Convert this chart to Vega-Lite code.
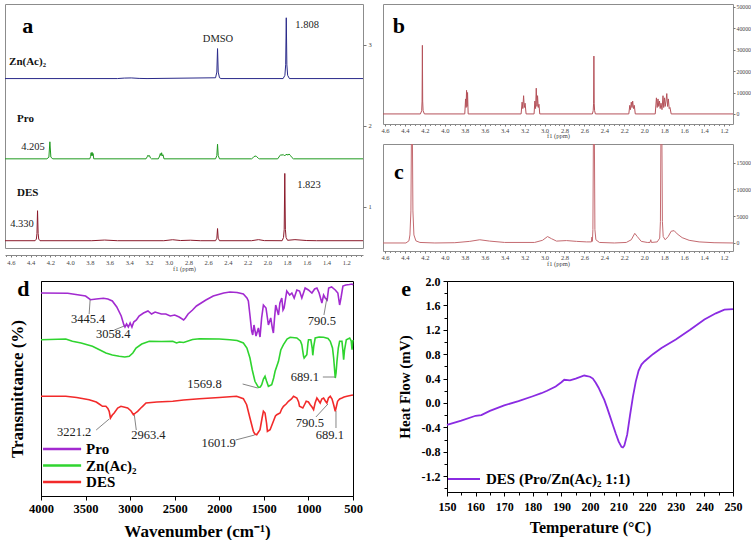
{
"$schema": "https://vega.github.io/schema/vega-lite/v6.json",
"background": "white",
"padding": {"left": 4, "top": 3, "right": 0, "bottom": 0},
"config": {
  "view": {"stroke": null},
  "font": "Liberation Serif",
  "axis": {"labelFont": "Liberation Serif", "titleFont": "Liberation Serif", "grid": false},
  "text": {"font": "Liberation Serif"},
  "legend": {"labelFont": "Liberation Serif"}
},
"datasets": {
  "nmrA": [
    {"s":"Zn","ppm":4.66,"v":2.58},{"s":"Zn","ppm":3.52,"v":2.58},{"s":"Zn","ppm":3.45,"v":2.586},{"s":"Zn","ppm":3.38,"v":2.588},{"s":"Zn","ppm":3.3,"v":2.582},{"s":"Zn","ppm":3.22,"v":2.58},
    {"s":"Zn","ppm":2.525,"v":2.59},{"s":"Zn","ppm":2.512,"v":2.66},{"s":"Zn","ppm":2.505,"v":2.95},{"s":"Zn","ppm":2.498,"v":2.66},{"s":"Zn","ppm":2.485,"v":2.59},{"s":"Zn","ppm":2.47,"v":2.58},
    {"s":"Zn","ppm":1.84,"v":2.58},{"s":"Zn","ppm":1.822,"v":2.62},{"s":"Zn","ppm":1.814,"v":2.75},{"s":"Zn","ppm":1.808,"v":3.33},{"s":"Zn","ppm":1.802,"v":2.75},{"s":"Zn","ppm":1.794,"v":2.62},{"s":"Zn","ppm":1.776,"v":2.58},{"s":"Zn","ppm":1.03,"v":2.58},
    {"s":"Pro","ppm":4.66,"v":1.59},{"s":"Pro","ppm":4.235,"v":1.59},{"s":"Pro","ppm":4.215,"v":1.61},{"s":"Pro","ppm":4.205,"v":1.8},{"s":"Pro","ppm":4.195,"v":1.61},{"s":"Pro","ppm":4.175,"v":1.59},
    {"s":"Pro","ppm":3.8,"v":1.59},{"s":"Pro","ppm":3.792,"v":1.62},{"s":"Pro","ppm":3.787,"v":1.665},{"s":"Pro","ppm":3.782,"v":1.63},{"s":"Pro","ppm":3.777,"v":1.67},{"s":"Pro","ppm":3.772,"v":1.63},{"s":"Pro","ppm":3.767,"v":1.655},{"s":"Pro","ppm":3.76,"v":1.59},
    {"s":"Pro","ppm":3.23,"v":1.59},{"s":"Pro","ppm":3.218,"v":1.615},{"s":"Pro","ppm":3.21,"v":1.635},{"s":"Pro","ppm":3.202,"v":1.62},{"s":"Pro","ppm":3.195,"v":1.63},{"s":"Pro","ppm":3.185,"v":1.6},{"s":"Pro","ppm":3.175,"v":1.59},
    {"s":"Pro","ppm":3.105,"v":1.59},{"s":"Pro","ppm":3.092,"v":1.625},{"s":"Pro","ppm":3.085,"v":1.655},{"s":"Pro","ppm":3.078,"v":1.63},{"s":"Pro","ppm":3.072,"v":1.665},{"s":"Pro","ppm":3.065,"v":1.625},{"s":"Pro","ppm":3.058,"v":1.64},{"s":"Pro","ppm":3.048,"v":1.59},
    {"s":"Pro","ppm":2.525,"v":1.59},{"s":"Pro","ppm":2.512,"v":1.63},{"s":"Pro","ppm":2.505,"v":1.77},{"s":"Pro","ppm":2.498,"v":1.63},{"s":"Pro","ppm":2.485,"v":1.59},
    {"s":"Pro","ppm":2.16,"v":1.59},{"s":"Pro","ppm":2.14,"v":1.61},{"s":"Pro","ppm":2.125,"v":1.625},{"s":"Pro","ppm":2.11,"v":1.62},{"s":"Pro","ppm":2.09,"v":1.595},{"s":"Pro","ppm":2.08,"v":1.59},
    {"s":"Pro","ppm":1.895,"v":1.59},{"s":"Pro","ppm":1.875,"v":1.625},{"s":"Pro","ppm":1.865,"v":1.64},{"s":"Pro","ppm":1.85,"v":1.635},{"s":"Pro","ppm":1.84,"v":1.645},{"s":"Pro","ppm":1.825,"v":1.625},{"s":"Pro","ppm":1.815,"v":1.64},{"s":"Pro","ppm":1.8,"v":1.645},{"s":"Pro","ppm":1.79,"v":1.635},{"s":"Pro","ppm":1.78,"v":1.65},{"s":"Pro","ppm":1.765,"v":1.63},{"s":"Pro","ppm":1.75,"v":1.605},{"s":"Pro","ppm":1.735,"v":1.59},{"s":"Pro","ppm":1.03,"v":1.59},
    {"s":"DES","ppm":4.66,"v":0.58},{"s":"DES","ppm":4.355,"v":0.58},{"s":"DES","ppm":4.342,"v":0.6},{"s":"DES","ppm":4.336,"v":0.67},{"s":"DES","ppm":4.33,"v":0.95},{"s":"DES","ppm":4.324,"v":0.67},{"s":"DES","ppm":4.318,"v":0.6},{"s":"DES","ppm":4.305,"v":0.58},
    {"s":"DES","ppm":3.78,"v":0.58},{"s":"DES","ppm":3.65,"v":0.588},{"s":"DES","ppm":3.52,"v":0.58},{"s":"DES","ppm":3.05,"v":0.58},{"s":"DES","ppm":2.96,"v":0.592},{"s":"DES","ppm":2.88,"v":0.582},{"s":"DES","ppm":2.78,"v":0.586},{"s":"DES","ppm":2.68,"v":0.58},
    {"s":"DES","ppm":2.525,"v":0.58},{"s":"DES","ppm":2.512,"v":0.61},{"s":"DES","ppm":2.505,"v":0.73},{"s":"DES","ppm":2.498,"v":0.61},{"s":"DES","ppm":2.485,"v":0.58},
    {"s":"DES","ppm":2.16,"v":0.58},{"s":"DES","ppm":2.09,"v":0.593},{"s":"DES","ppm":2.03,"v":0.581},{"s":"DES","ppm":1.85,"v":0.58},{"s":"DES","ppm":1.836,"v":0.62},{"s":"DES","ppm":1.829,"v":0.72},{"s":"DES","ppm":1.823,"v":1.41},{"s":"DES","ppm":1.817,"v":0.72},{"s":"DES","ppm":1.81,"v":0.62},{"s":"DES","ppm":1.795,"v":0.585},{"s":"DES","ppm":1.72,"v":0.593},{"s":"DES","ppm":1.6,"v":0.582},{"s":"DES","ppm":1.5,"v":0.58},{"s":"DES","ppm":1.03,"v":0.58}
  ],
  "nmrB": [
    {"ppm":4.62,"v":0},{"ppm":4.245,"v":0},{"ppm":4.232,"v":1500},{"ppm":4.228,"v":6000},{"ppm":4.225,"v":32000},{"ppm":4.222,"v":6000},{"ppm":4.218,"v":1500},{"ppm":4.205,"v":0},
    {"ppm":3.8,"v":0},{"ppm":3.792,"v":7000},{"ppm":3.787,"v":3000},{"ppm":3.782,"v":11000},{"ppm":3.777,"v":3500},{"ppm":3.772,"v":10000},{"ppm":3.766,"v":0},
    {"ppm":3.235,"v":0},{"ppm":3.225,"v":5500},{"ppm":3.218,"v":2500},{"ppm":3.21,"v":8500},{"ppm":3.203,"v":3000},{"ppm":3.195,"v":5000},{"ppm":3.185,"v":0},
    {"ppm":3.105,"v":0},{"ppm":3.097,"v":6000},{"ppm":3.09,"v":2500},{"ppm":3.083,"v":12000},{"ppm":3.076,"v":3500},{"ppm":3.07,"v":8500},{"ppm":3.063,"v":3000},{"ppm":3.056,"v":4500},{"ppm":3.048,"v":0},
    {"ppm":2.52,"v":0},{"ppm":2.512,"v":1500},{"ppm":2.508,"v":5000},{"ppm":2.505,"v":27000},{"ppm":2.502,"v":5000},{"ppm":2.498,"v":1500},{"ppm":2.49,"v":0},
    {"ppm":2.155,"v":0},{"ppm":2.145,"v":4000},{"ppm":2.138,"v":2000},{"ppm":2.13,"v":5500},{"ppm":2.123,"v":3000},{"ppm":2.116,"v":6000},{"ppm":2.108,"v":2500},{"ppm":2.1,"v":4000},{"ppm":2.09,"v":0},
    {"ppm":1.89,"v":0},{"ppm":1.878,"v":7500},{"ppm":1.87,"v":3000},{"ppm":1.862,"v":7000},{"ppm":1.855,"v":3500},{"ppm":1.847,"v":6000},{"ppm":1.84,"v":2500},{"ppm":1.832,"v":5000},{"ppm":1.822,"v":2000},{"ppm":1.812,"v":8500},{"ppm":1.805,"v":3000},{"ppm":1.797,"v":7500},{"ppm":1.79,"v":3500},{"ppm":1.782,"v":6000},{"ppm":1.774,"v":9500},{"ppm":1.766,"v":3500},{"ppm":1.758,"v":7000},{"ppm":1.75,"v":2500},{"ppm":1.742,"v":3000},{"ppm":1.73,"v":0},{"ppm":1.11,"v":0}
  ],
  "nmrC": [
    {"ppm":4.62,"v":0},{"ppm":4.39,"v":0},{"ppm":4.36,"v":400},{"ppm":4.35,"v":1500},{"ppm":4.34,"v":6000},{"ppm":4.335,"v":19500},{"ppm":4.325,"v":19500},{"ppm":4.32,"v":6000},{"ppm":4.31,"v":1500},{"ppm":4.29,"v":400},{"ppm":4.25,"v":100},{"ppm":4.1,"v":0},
    {"ppm":3.9,"v":50},{"ppm":3.75,"v":300},{"ppm":3.65,"v":600},{"ppm":3.55,"v":350},{"ppm":3.4,"v":100},{"ppm":3.1,"v":100},{"ppm":3.02,"v":500},{"ppm":2.97,"v":1200},{"ppm":2.93,"v":800},{"ppm":2.88,"v":350},{"ppm":2.78,"v":450},{"ppm":2.68,"v":300},{"ppm":2.58,"v":200},
    {"ppm":2.53,"v":200},{"ppm":2.525,"v":1100},{"ppm":2.52,"v":300},{"ppm":2.515,"v":2500},{"ppm":2.51,"v":19500},{"ppm":2.5,"v":19500},{"ppm":2.495,"v":2500},{"ppm":2.485,"v":600},{"ppm":2.45,"v":100},{"ppm":2.3,"v":0},
    {"ppm":2.18,"v":100},{"ppm":2.13,"v":600},{"ppm":2.095,"v":1800},{"ppm":2.07,"v":1200},{"ppm":2.03,"v":300},{"ppm":1.97,"v":100},{"ppm":1.942,"v":100},{"ppm":1.935,"v":600},{"ppm":1.928,"v":100},
    {"ppm":1.87,"v":200},{"ppm":1.845,"v":900},{"ppm":1.838,"v":4000},{"ppm":1.833,"v":19500},{"ppm":1.823,"v":19500},{"ppm":1.818,"v":4000},{"ppm":1.81,"v":1200},{"ppm":1.79,"v":600},{"ppm":1.76,"v":1200},{"ppm":1.73,"v":2200},{"ppm":1.7,"v":2300},{"ppm":1.67,"v":1700},{"ppm":1.62,"v":1000},{"ppm":1.55,"v":500},{"ppm":1.45,"v":200},{"ppm":1.3,"v":50},{"ppm":1.11,"v":0}
  ],
  "ftir": [
    {"s":"Pro","wn":4000,"t":203},{"s":"Pro","wn":3700,"t":202.7},{"s":"Pro","wn":3500,"t":200},{"s":"Pro","wn":3445,"t":196.3},{"s":"Pro","wn":3380,"t":197},{"s":"Pro","wn":3300,"t":197.7},{"s":"Pro","wn":3250,"t":197},{"s":"Pro","wn":3200,"t":195},{"s":"Pro","wn":3150,"t":189},{"s":"Pro","wn":3100,"t":180},{"s":"Pro","wn":3070,"t":171},{"s":"Pro","wn":3058,"t":169},{"s":"Pro","wn":3040,"t":172},{"s":"Pro","wn":3020,"t":169},{"s":"Pro","wn":3000,"t":173},{"s":"Pro","wn":2980,"t":169},{"s":"Pro","wn":2960,"t":174},{"s":"Pro","wn":2930,"t":176},{"s":"Pro","wn":2900,"t":180},{"s":"Pro","wn":2850,"t":183},{"s":"Pro","wn":2800,"t":185},{"s":"Pro","wn":2760,"t":182},{"s":"Pro","wn":2720,"t":184},{"s":"Pro","wn":2650,"t":182},{"s":"Pro","wn":2600,"t":182},{"s":"Pro","wn":2550,"t":180},{"s":"Pro","wn":2500,"t":181},{"s":"Pro","wn":2450,"t":179},{"s":"Pro","wn":2400,"t":176},{"s":"Pro","wn":2380,"t":178},{"s":"Pro","wn":2350,"t":182},{"s":"Pro","wn":2300,"t":186},{"s":"Pro","wn":2256,"t":190},{"s":"Pro","wn":2150,"t":196},{"s":"Pro","wn":2068,"t":200},{"s":"Pro","wn":1950,"t":203},{"s":"Pro","wn":1881,"t":204},{"s":"Pro","wn":1800,"t":203.5},{"s":"Pro","wn":1730,"t":202},{"s":"Pro","wn":1690,"t":198},{"s":"Pro","wn":1674,"t":195},{"s":"Pro","wn":1655,"t":180},{"s":"Pro","wn":1637,"t":165},{"s":"Pro","wn":1625,"t":161},{"s":"Pro","wn":1611,"t":171},{"s":"Pro","wn":1588,"t":160},{"s":"Pro","wn":1561,"t":168},{"s":"Pro","wn":1543,"t":159},{"s":"Pro","wn":1525,"t":178},{"s":"Pro","wn":1505,"t":191},{"s":"Pro","wn":1476,"t":188},{"s":"Pro","wn":1449,"t":171},{"s":"Pro","wn":1423,"t":178},{"s":"Pro","wn":1405,"t":168},{"s":"Pro","wn":1393,"t":163},{"s":"Pro","wn":1380,"t":178},{"s":"Pro","wn":1367,"t":191},{"s":"Pro","wn":1336,"t":181},{"s":"Pro","wn":1320,"t":193},{"s":"Pro","wn":1299,"t":198},{"s":"Pro","wn":1285,"t":186},{"s":"Pro","wn":1273,"t":188},{"s":"Pro","wn":1243,"t":205},{"s":"Pro","wn":1210,"t":201},{"s":"Pro","wn":1186,"t":203},{"s":"Pro","wn":1160,"t":198},{"s":"Pro","wn":1130,"t":206},{"s":"Pro","wn":1100,"t":205},{"s":"Pro","wn":1074,"t":198},{"s":"Pro","wn":1037,"t":208},{"s":"Pro","wn":1000,"t":206},{"s":"Pro","wn":961,"t":203},{"s":"Pro","wn":930,"t":207},{"s":"Pro","wn":905,"t":208},{"s":"Pro","wn":880,"t":203},{"s":"Pro","wn":849,"t":193},{"s":"Pro","wn":830,"t":201},{"s":"Pro","wn":812,"t":198},{"s":"Pro","wn":790,"t":196},{"s":"Pro","wn":773,"t":208},{"s":"Pro","wn":740,"t":209},{"s":"Pro","wn":699,"t":206},{"s":"Pro","wn":670,"t":203},{"s":"Pro","wn":650,"t":191},{"s":"Pro","wn":635,"t":198},{"s":"Pro","wn":613,"t":210},{"s":"Pro","wn":580,"t":211},{"s":"Pro","wn":540,"t":211.5},{"s":"Pro","wn":511,"t":212},{"s":"Pro","wn":500,"t":211},
    {"s":"Zn(Ac)₂","wn":4000,"t":156.3},{"s":"Zn(Ac)₂","wn":3722,"t":157},{"s":"Zn(Ac)₂","wn":3648,"t":154.7},{"s":"Zn(Ac)₂","wn":3550,"t":153},{"s":"Zn(Ac)₂","wn":3423,"t":149.7},{"s":"Zn(Ac)₂","wn":3350,"t":146.5},{"s":"Zn(Ac)₂","wn":3272,"t":143},{"s":"Zn(Ac)₂","wn":3200,"t":141},{"s":"Zn(Ac)₂","wn":3122,"t":139.7},{"s":"Zn(Ac)₂","wn":3060,"t":139},{"s":"Zn(Ac)₂","wn":3010,"t":139.7},{"s":"Zn(Ac)₂","wn":2970,"t":143},{"s":"Zn(Ac)₂","wn":2934,"t":148},{"s":"Zn(Ac)₂","wn":2870,"t":152},{"s":"Zn(Ac)₂","wn":2785,"t":154.7},{"s":"Zn(Ac)₂","wn":2650,"t":154.5},{"s":"Zn(Ac)₂","wn":2522,"t":154.7},{"s":"Zn(Ac)₂","wn":2480,"t":153},{"s":"Zn(Ac)₂","wn":2447,"t":154},{"s":"Zn(Ac)₂","wn":2400,"t":153.5},{"s":"Zn(Ac)₂","wn":2300,"t":156.5},{"s":"Zn(Ac)₂","wn":2222,"t":157.3},{"s":"Zn(Ac)₂","wn":2000,"t":157},{"s":"Zn(Ac)₂","wn":1881,"t":156.3},{"s":"Zn(Ac)₂","wn":1800,"t":155.5},{"s":"Zn(Ac)₂","wn":1730,"t":153},{"s":"Zn(Ac)₂","wn":1690,"t":148},{"s":"Zn(Ac)₂","wn":1656,"t":138},{"s":"Zn(Ac)₂","wn":1630,"t":126},{"s":"Zn(Ac)₂","wn":1600,"t":114.7},{"s":"Zn(Ac)₂","wn":1561,"t":108.7},{"s":"Zn(Ac)₂","wn":1540,"t":109},{"s":"Zn(Ac)₂","wn":1524,"t":111.3},{"s":"Zn(Ac)₂","wn":1505,"t":117},{"s":"Zn(Ac)₂","wn":1487,"t":119.7},{"s":"Zn(Ac)₂","wn":1470,"t":115},{"s":"Zn(Ac)₂","wn":1449,"t":109.7},{"s":"Zn(Ac)₂","wn":1412,"t":111.3},{"s":"Zn(Ac)₂","wn":1390,"t":118},{"s":"Zn(Ac)₂","wn":1374,"t":124.7},{"s":"Zn(Ac)₂","wn":1336,"t":134.7},{"s":"Zn(Ac)₂","wn":1310,"t":146},{"s":"Zn(Ac)₂","wn":1280,"t":151.3},{"s":"Zn(Ac)₂","wn":1240,"t":157},{"s":"Zn(Ac)₂","wn":1205,"t":158.7},{"s":"Zn(Ac)₂","wn":1130,"t":158},{"s":"Zn(Ac)₂","wn":1090,"t":155},{"s":"Zn(Ac)₂","wn":1074,"t":151.3},{"s":"Zn(Ac)₂","wn":1055,"t":140},{"s":"Zn(Ac)₂","wn":1048,"t":138},{"s":"Zn(Ac)₂","wn":1030,"t":140},{"s":"Zn(Ac)₂","wn":1018,"t":141.3},{"s":"Zn(Ac)₂","wn":1005,"t":153},{"s":"Zn(Ac)₂","wn":999,"t":156.3},{"s":"Zn(Ac)₂","wn":973,"t":156.3},{"s":"Zn(Ac)₂","wn":958,"t":148},{"s":"Zn(Ac)₂","wn":951,"t":140.7},{"s":"Zn(Ac)₂","wn":940,"t":150},{"s":"Zn(Ac)₂","wn":924,"t":158},{"s":"Zn(Ac)₂","wn":880,"t":159},{"s":"Zn(Ac)₂","wn":830,"t":158.7},{"s":"Zn(Ac)₂","wn":780,"t":157.5},{"s":"Zn(Ac)₂","wn":755,"t":154.7},{"s":"Zn(Ac)₂","wn":730,"t":148},{"s":"Zn(Ac)₂","wn":717,"t":138},{"s":"Zn(Ac)₂","wn":699,"t":118},{"s":"Zn(Ac)₂","wn":690,"t":123},{"s":"Zn(Ac)₂","wn":680,"t":134.7},{"s":"Zn(Ac)₂","wn":665,"t":148},{"s":"Zn(Ac)₂","wn":650,"t":154.7},{"s":"Zn(Ac)₂","wn":624,"t":154.7},{"s":"Zn(Ac)₂","wn":614,"t":146},{"s":"Zn(Ac)₂","wn":605,"t":136.3},{"s":"Zn(Ac)₂","wn":595,"t":146},{"s":"Zn(Ac)₂","wn":575,"t":156.3},{"s":"Zn(Ac)₂","wn":537,"t":158},{"s":"Zn(Ac)₂","wn":520,"t":155},{"s":"Zn(Ac)₂","wn":511,"t":146.3},{"s":"Zn(Ac)₂","wn":505,"t":153},{"s":"Zn(Ac)₂","wn":500,"t":156},
    {"s":"DES","wn":4000,"t":99.7},{"s":"DES","wn":3722,"t":99.7},{"s":"DES","wn":3600,"t":98.5},{"s":"DES","wn":3460,"t":96.3},{"s":"DES","wn":3380,"t":94},{"s":"DES","wn":3347,"t":92},{"s":"DES","wn":3310,"t":89.7},{"s":"DES","wn":3272,"t":89.7},{"s":"DES","wn":3250,"t":87.5},{"s":"DES","wn":3235,"t":84.7},{"s":"DES","wn":3221,"t":78},{"s":"DES","wn":3200,"t":81},{"s":"DES","wn":3179,"t":83},{"s":"DES","wn":3140,"t":88},{"s":"DES","wn":3103,"t":89.7},{"s":"DES","wn":3028,"t":88},{"s":"DES","wn":2990,"t":85},{"s":"DES","wn":2963,"t":81.3},{"s":"DES","wn":2940,"t":83},{"s":"DES","wn":2916,"t":84.7},{"s":"DES","wn":2880,"t":88},{"s":"DES","wn":2860,"t":89.7},{"s":"DES","wn":2822,"t":93},{"s":"DES","wn":2700,"t":94},{"s":"DES","wn":2522,"t":94.7},{"s":"DES","wn":2400,"t":96},{"s":"DES","wn":2222,"t":97.3},{"s":"DES","wn":2000,"t":98.5},{"s":"DES","wn":1806,"t":99.7},{"s":"DES","wn":1730,"t":97.3},{"s":"DES","wn":1693,"t":91.3},{"s":"DES","wn":1656,"t":78},{"s":"DES","wn":1618,"t":64.7},{"s":"DES","wn":1601,"t":62},{"s":"DES","wn":1580,"t":61.3},{"s":"DES","wn":1543,"t":66.3},{"s":"DES","wn":1520,"t":78},{"s":"DES","wn":1505,"t":84.7},{"s":"DES","wn":1487,"t":83},{"s":"DES","wn":1470,"t":73},{"s":"DES","wn":1460,"t":64.7},{"s":"DES","wn":1430,"t":66.3},{"s":"DES","wn":1393,"t":74.7},{"s":"DES","wn":1370,"t":80},{"s":"DES","wn":1355,"t":81.3},{"s":"DES","wn":1318,"t":83},{"s":"DES","wn":1300,"t":87},{"s":"DES","wn":1280,"t":89.7},{"s":"DES","wn":1250,"t":92},{"s":"DES","wn":1224,"t":94.7},{"s":"DES","wn":1190,"t":97},{"s":"DES","wn":1167,"t":99.7},{"s":"DES","wn":1130,"t":98},{"s":"DES","wn":1110,"t":94},{"s":"DES","wn":1100,"t":89.7},{"s":"DES","wn":1063,"t":88},{"s":"DES","wn":1040,"t":92},{"s":"DES","wn":1025,"t":94.7},{"s":"DES","wn":1000,"t":94},{"s":"DES","wn":980,"t":91.3},{"s":"DES","wn":960,"t":89},{"s":"DES","wn":942,"t":86.3},{"s":"DES","wn":925,"t":93},{"s":"DES","wn":905,"t":98},{"s":"DES","wn":890,"t":96},{"s":"DES","wn":868,"t":93},{"s":"DES","wn":850,"t":97},{"s":"DES","wn":830,"t":98},{"s":"DES","wn":810,"t":95},{"s":"DES","wn":793,"t":93},{"s":"DES","wn":775,"t":98},{"s":"DES","wn":755,"t":99.7},{"s":"DES","wn":735,"t":97},{"s":"DES","wn":717,"t":91.3},{"s":"DES","wn":699,"t":84.7},{"s":"DES","wn":685,"t":90},{"s":"DES","wn":673,"t":94.7},{"s":"DES","wn":650,"t":97},{"s":"DES","wn":624,"t":98},{"s":"DES","wn":600,"t":99},{"s":"DES","wn":568,"t":99.7},{"s":"DES","wn":530,"t":100.5},{"s":"DES","wn":500,"t":101}
  ],
  "ftirKey": [
    {"s":"Pro","wn":3977,"wn2":3550,"wnt":3494,"t":47},
    {"s":"Zn(Ac)₂","wn":3977,"wn2":3550,"wnt":3494,"t":30.5},
    {"s":"DES","wn":3977,"wn2":3550,"wnt":3494,"t":14}
  ],
  "dsc": [
    {"T":150,"hf":-0.36},{"T":155,"hf":-0.29},{"T":160,"hf":-0.21},{"T":162,"hf":-0.2},{"T":165,"hf":-0.13},{"T":170,"hf":-0.04},{"T":175,"hf":0.03},{"T":180,"hf":0.11},{"T":183,"hf":0.16},{"T":185,"hf":0.2},{"T":188,"hf":0.27},{"T":190,"hf":0.34},{"T":191,"hf":0.38},{"T":193,"hf":0.37},{"T":195,"hf":0.4},{"T":198,"hf":0.45},{"T":200,"hf":0.43},{"T":201,"hf":0.4},{"T":202,"hf":0.33},{"T":203,"hf":0.25},{"T":204,"hf":0.15},{"T":205,"hf":0.05},{"T":206,"hf":-0.08},{"T":207,"hf":-0.22},{"T":208,"hf":-0.36},{"T":209,"hf":-0.5},{"T":210,"hf":-0.63},{"T":211,"hf":-0.72},{"T":211.5,"hf":-0.73},{"T":212,"hf":-0.7},{"T":213,"hf":-0.52},{"T":214,"hf":-0.2},{"T":215,"hf":0.1},{"T":216,"hf":0.35},{"T":217,"hf":0.53},{"T":218,"hf":0.63},{"T":219,"hf":0.68},{"T":220,"hf":0.72},{"T":222,"hf":0.8},{"T":225,"hf":0.9},{"T":230,"hf":1.04},{"T":235,"hf":1.2},{"T":240,"hf":1.37},{"T":244,"hf":1.47},{"T":247,"hf":1.53},{"T":250,"hf":1.54}
  ]
},
"resolve": {"scale": {"x": "independent", "y": "independent", "color": "independent"}},
"spacing": 1,
"vconcat": [
  {
    "bounds": "flush",
    "spacing": 20,
    "resolve": {"scale": {"x": "independent", "y": "independent", "color": "independent"}},
    "hconcat": [
      {
        "width": 358, "height": 244,
        "view": {"stroke": "#8c8c8c", "strokeWidth": 1},
        "resolve": {"axis": {"x": "independent", "y": "independent"}},
        "layer": [
          {
            "data": {"name": "nmrA"},
            "mark": {"type": "line", "strokeWidth": 1, "clip": true},
            "encoding": {
              "x": {"field": "ppm", "type": "quantitative", "scale": {"domain": [4.66, 1.03], "nice": false, "zero": false},
                "axis": {"orient": "bottom", "offset": 7, "values": [4.6,4.4,4.2,4.0,3.8,3.6,3.4,3.2,3.0,2.8,2.6,2.4,2.2,2.0,1.8,1.6,1.4,1.2], "format": ".1f", "labelOverlap": false, "labelFlush": false,
                  "labelFontSize": 6.5, "labelColor": "#444", "labelPadding": 2, "tickSize": 2, "tickColor": "#777", "domainColor": "#888",
                  "title": "f1 (ppm)", "titleFontSize": 6.5, "titleFontWeight": "normal", "titleColor": "#444", "titlePadding": 0}},
              "y": {"field": "v", "type": "quantitative", "scale": {"domain": [0.49, 3.5], "nice": false, "zero": false},
                "axis": {"orient": "right", "values": [1, 2, 3], "format": "d", "labelFontSize": 6.5, "labelColor": "#444", "tickSize": 3, "tickColor": "#777", "domain": false, "title": null, "labelPadding": 2}},
              "color": {"field": "s", "type": "nominal", "scale": {"domain": ["Zn", "Pro", "DES"], "range": ["#2a2a8a", "#1f9a1f", "#8b1a2b"]}, "legend": null}
            }
          },
          {
            "data": {"values": [{"t": "Zn(Ac)₂", "ppm": 4.619, "v": 2.78}, {"t": "Pro", "ppm": 4.538, "v": 2.08}, {"t": "DES", "ppm": 4.538, "v": 1.17}]},
            "mark": {"type": "text", "align": "left", "baseline": "middle", "fontSize": 11, "fontWeight": "bold", "color": "#111"},
            "encoding": {"x": {"field": "ppm", "type": "quantitative", "axis": null}, "y": {"field": "v", "type": "quantitative", "axis": null}, "text": {"field": "t"}}
          },
          {
            "data": {"values": [{"t": "DMSO", "ppm": 2.5, "v": 3.07}, {"t": "1.808", "ppm": 1.597, "v": 3.24}, {"t": "4.205", "ppm": 4.376, "v": 1.735}, {"t": "4.330", "ppm": 4.488, "v": 0.784}, {"t": "1.823", "ppm": 1.577, "v": 1.265}]},
            "mark": {"type": "text", "align": "center", "baseline": "middle", "fontSize": 10.5, "color": "#222"},
            "encoding": {"x": {"field": "ppm", "type": "quantitative", "axis": null}, "y": {"field": "v", "type": "quantitative", "axis": null}, "text": {"field": "t"}}
          },
          {
            "data": {"values": [{"t": "a", "ppm": 4.43, "v": 3.23}]},
            "mark": {"type": "text", "align": "center", "baseline": "middle", "fontSize": 22, "fontWeight": "bold", "color": "#000"},
            "encoding": {
              "x": {"field": "ppm", "type": "quantitative", "axis": {"orient": "bottom", "offset": 7, "values": [4.65,4.55,4.5,4.45,4.35,4.3,4.25,4.15,4.1,4.05,3.95,3.9,3.85,3.75,3.7,3.65,3.55,3.5,3.45,3.35,3.3,3.25,3.15,3.1,3.05,2.95,2.9,2.85,2.75,2.7,2.65,2.55,2.5,2.45,2.35,2.3,2.25,2.15,2.1,2.05,1.95,1.9,1.85,1.75,1.7,1.65,1.55,1.5,1.45,1.35,1.3,1.25,1.15,1.1,1.05], "labels": false, "domain": false, "tickSize": 1.5, "tickColor": "#888", "title": null}},
              "y": {"field": "v", "type": "quantitative", "axis": null},
              "text": {"field": "t"}}
          }
        ]
      },
      {
        "bounds": "flush",
        "spacing": 20,
        "resolve": {"scale": {"x": "independent", "y": "independent", "color": "independent"}},
        "vconcat": [
          {
            "width": 350, "height": 120,
            "view": {"stroke": "#8c8c8c", "strokeWidth": 1},
            "resolve": {"axis": {"x": "independent", "y": "independent"}},
            "layer": [
              {
                "data": {"name": "nmrB"},
                "mark": {"type": "line", "strokeWidth": 1, "color": "#b5525a", "clip": true},
                "encoding": {
                  "x": {"field": "ppm", "type": "quantitative", "scale": {"domain": [4.62, 1.11], "nice": false, "zero": false},
                    "axis": {"orient": "bottom", "values": [4.6,4.4,4.2,4.0,3.8,3.6,3.4,3.2,3.0,2.8,2.6,2.4,2.2,2.0,1.8,1.6,1.4,1.2], "format": ".1f", "labelOverlap": false, "labelFlush": false,
                      "labelFontSize": 6.5, "labelColor": "#444", "labelPadding": 1, "tickSize": 2, "tickColor": "#777", "domain": false,
                      "title": "f1 (ppm)", "titleFontSize": 6.5, "titleFontWeight": "normal", "titleColor": "#444", "titlePadding": -1}},
                  "y": {"field": "v", "type": "quantitative", "scale": {"domain": [-4700, 51300], "nice": false, "zero": false},
                    "axis": {"orient": "right", "values": [0, 10000, 20000, 30000, 40000, 50000], "format": "d", "labelFontSize": 5.8, "labelColor": "#444", "tickSize": 2, "tickColor": "#777", "domain": false, "title": null, "labelPadding": 1}}
                }
              },
              {
                "data": {"values": [{"t": "b", "ppm": 4.46, "v": 41000}]},
                "mark": {"type": "text", "align": "center", "baseline": "middle", "fontSize": 22, "fontWeight": "bold", "color": "#000"},
                "encoding": {
                  "x": {"field": "ppm", "type": "quantitative", "axis": {"orient": "bottom", "values": [4.55,4.5,4.45,4.35,4.3,4.25,4.15,4.1,4.05,3.95,3.9,3.85,3.75,3.7,3.65,3.55,3.5,3.45,3.35,3.3,3.25,3.15,3.1,3.05,2.95,2.9,2.85,2.75,2.7,2.65,2.55,2.5,2.45,2.35,2.3,2.25,2.15,2.1,2.05,1.95,1.9,1.85,1.75,1.7,1.65,1.55,1.5,1.45,1.35,1.3,1.25,1.15], "labels": false, "domain": false, "tickSize": 1.5, "tickColor": "#888", "title": null}},
                  "y": {"field": "v", "type": "quantitative", "axis": null},
                  "text": {"field": "t"}}
              }
            ]
          },
          {
            "width": 350, "height": 107,
            "view": {"stroke": "#8c8c8c", "strokeWidth": 1},
            "resolve": {"axis": {"x": "independent", "y": "independent"}},
            "layer": [
              {
                "data": {"name": "nmrC"},
                "mark": {"type": "line", "strokeWidth": 1, "color": "#c46a70", "clip": true},
                "encoding": {
                  "x": {"field": "ppm", "type": "quantitative", "scale": {"domain": [4.62, 1.11], "nice": false, "zero": false},
                    "axis": {"orient": "bottom", "values": [4.6,4.4,4.2,4.0,3.8,3.6,3.4,3.2,3.0,2.8,2.6,2.4,2.2,2.0,1.8,1.6,1.4,1.2], "format": ".1f", "labelOverlap": false, "labelFlush": false,
                      "labelFontSize": 6.5, "labelColor": "#444", "labelPadding": 1, "tickSize": 2, "tickColor": "#777", "domain": false,
                      "title": "f1 (ppm)", "titleFontSize": 6.5, "titleFontWeight": "normal", "titleColor": "#444", "titlePadding": 0}},
                  "y": {"field": "v", "type": "quantitative", "scale": {"domain": [-1500, 18500], "nice": false, "zero": false},
                    "axis": {"orient": "right", "values": [0, 5000, 10000, 15000], "format": "d", "labelFontSize": 5.8, "labelColor": "#444", "tickSize": 2, "tickColor": "#777", "domain": false, "title": null, "labelPadding": 1}}
                }
              },
              {
                "data": {"values": [{"t": "c", "ppm": 4.46, "v": 13270}]},
                "mark": {"type": "text", "align": "center", "baseline": "middle", "fontSize": 22, "fontWeight": "bold", "color": "#000"},
                "encoding": {
                  "x": {"field": "ppm", "type": "quantitative", "axis": {"orient": "bottom", "values": [4.55,4.5,4.45,4.35,4.3,4.25,4.15,4.1,4.05,3.95,3.9,3.85,3.75,3.7,3.65,3.55,3.5,3.45,3.35,3.3,3.25,3.15,3.1,3.05,2.95,2.9,2.85,2.75,2.7,2.65,2.55,2.5,2.45,2.35,2.3,2.25,2.15,2.1,2.05,1.95,1.9,1.85,1.75,1.7,1.65,1.55,1.5,1.45,1.35,1.3,1.25,1.15], "labels": false, "domain": false, "tickSize": 1.5, "tickColor": "#888", "title": null}},
                  "y": {"field": "v", "type": "quantitative", "axis": null},
                  "text": {"field": "t"}}
              }
            ]
          }
        ]
      }
    ]
  },
  {
    "bounds": "flush",
    "spacing": 20,
    "resolve": {"scale": {"x": "independent", "y": "independent", "color": "independent"}},
    "hconcat": [
      {
        "width": 16, "height": 10,
        "data": {"values": []},
        "mark": {"type": "point", "opacity": 0},
        "encoding": {}
      },
      {
        "bounds": "flush",
        "spacing": 94,
        "resolve": {"scale": {"x": "independent", "y": "independent", "color": "independent"}},
        "hconcat": [
          {
            "width": 312, "height": 215,
            "view": {"stroke": "#000", "strokeWidth": 1},
            "layer": [
              {
                "data": {"name": "ftir"},
                "mark": {"type": "line", "strokeWidth": 1.6},
                "encoding": {
                  "x": {"field": "wn", "type": "quantitative", "scale": {"domain": [4000, 500], "nice": false, "zero": false},
                    "axis": {"orient": "bottom", "values": [4000, 3500, 3000, 2500, 2000, 1500, 1000, 500], "format": "d", "labelFontSize": 12.5, "labelFontWeight": "bold", "labelColor": "#000", "labelPadding": 2, "tickSize": 4, "tickColor": "#000", "domainColor": "#000", "labelFlush": false,
                      "title": "Wavenumber (cm⁻¹)", "titleFontSize": 17, "titleFontWeight": "bold", "titleColor": "#000", "titlePadding": 9}},
                  "y": {"field": "t", "type": "quantitative", "scale": {"domain": [0, 215], "nice": false, "zero": false},
                    "axis": {"orient": "left", "labels": false, "ticks": false, "domainColor": "#000", "title": "Transmittance (%)", "titleFontSize": 17, "titleFontWeight": "bold", "titleColor": "#000", "titlePadding": 15}},
                  "color": {"field": "s", "type": "nominal", "scale": {"domain": ["Pro", "Zn(Ac)₂", "DES"], "range": ["#a22ad0", "#2fd42f", "#f22a2a"]}, "legend": null}
                }
              },
              {
                "data": {"name": "ftirKey"},
                "mark": {"type": "rule", "strokeWidth": 2.5},
                "encoding": {"x": {"field": "wn", "type": "quantitative"}, "x2": {"field": "wn2"}, "y": {"field": "t", "type": "quantitative"}, "color": {"field": "s", "type": "nominal", "legend": null}}
              },
              {
                "data": {"name": "ftirKey"},
                "mark": {"type": "text", "align": "left", "baseline": "middle", "fontSize": 15, "fontWeight": "bold", "color": "#000"},
                "encoding": {"x": {"field": "wnt", "type": "quantitative"}, "y": {"field": "t", "type": "quantitative"}, "text": {"field": "s"}}
              },
              {
                "data": {"values": [
                  {"wn1": 3460, "t1": 182, "wn2": 3449, "t2": 196},
                  {"wn1": 3178, "t1": 166, "wn2": 3066, "t2": 170},
                  {"wn1": 826, "t1": 181, "wn2": 793, "t2": 198},
                  {"wn1": 1738, "t1": 112, "wn2": 1569, "t2": 108},
                  {"wn1": 838, "t1": 119, "wn2": 703, "t2": 119},
                  {"wn1": 3381, "t1": 66, "wn2": 3235, "t2": 77},
                  {"wn1": 2931, "t1": 66, "wn2": 2953, "t2": 81},
                  {"wn1": 1817, "t1": 56, "wn2": 1603, "t2": 61},
                  {"wn1": 916, "t1": 79, "wn2": 781, "t2": 92},
                  {"wn1": 691, "t1": 68, "wn2": 691, "t2": 85}
                ]},
                "mark": {"type": "rule", "color": "#666", "strokeWidth": 0.8},
                "encoding": {"x": {"field": "wn1", "type": "quantitative"}, "x2": {"field": "wn2"}, "y": {"field": "t1", "type": "quantitative"}, "y2": {"field": "t2"}}
              },
              {
                "data": {"values": [
                  {"t": "3445.4", "wn1": 3471, "t1": 177},
                  {"t": "3058.4", "wn1": 3190, "t1": 162},
                  {"t": "790.5", "wn1": 849, "t1": 175},
                  {"t": "1569.8", "wn1": 2166, "t1": 112},
                  {"t": "689.1", "wn1": 1040, "t1": 119},
                  {"t": "3221.2", "wn1": 3629, "t1": 64},
                  {"t": "2963.4", "wn1": 2796, "t1": 61},
                  {"t": "1601.9", "wn1": 2008, "t1": 53},
                  {"t": "790.5", "wn1": 984, "t1": 73},
                  {"t": "689.1", "wn1": 759, "t1": 61}
                ]},
                "mark": {"type": "text", "align": "center", "baseline": "middle", "fontSize": 12.5, "color": "#222"},
                "encoding": {"x": {"field": "wn1", "type": "quantitative"}, "y": {"field": "t1", "type": "quantitative"}, "text": {"field": "t"}}
              },
              {
                "data": {"values": [{"t": "d", "wn1": 4197, "t1": 207}]},
                "mark": {"type": "text", "align": "center", "baseline": "middle", "fontSize": 22, "fontWeight": "bold", "color": "#000"},
                "encoding": {"x": {"field": "wn1", "type": "quantitative"}, "y": {"field": "t1", "type": "quantitative"}, "text": {"field": "t"}}
              }
            ]
          },
          {
            "width": 286, "height": 211,
            "view": {"stroke": "#000", "strokeWidth": 1},
            "resolve": {"axis": {"x": "independent", "y": "independent"}},
            "layer": [
              {
                "data": {"name": "dsc"},
                "mark": {"type": "line", "strokeWidth": 1.8},
                "encoding": {
                  "x": {"field": "T", "type": "quantitative", "scale": {"domain": [150, 250], "nice": false, "zero": false},
                    "axis": {"orient": "bottom", "values": [150,160,170,180,190,200,210,220,230,240,250], "format": "d", "labelOverlap": false, "labelFlush": false, "labelFontSize": 12, "labelFontWeight": "bold", "labelColor": "#000", "labelPadding": 5, "tickSize": 4, "tickColor": "#000", "domainColor": "#000",
                      "title": "Temperature (°C)", "titleFontSize": 16, "titleFontWeight": "bold", "titleColor": "#000", "titlePadding": 7}},
                  "y": {"field": "hf", "type": "quantitative", "scale": {"domain": [-1.46, 2.0], "nice": false, "zero": false},
                    "axis": {"orient": "left", "values": [-1.2,-0.8,-0.4,0,0.4,0.8,1.2,1.6,2.0], "labelExpr": "replace(format(datum.value, '.1f'), '−', '-')", "labelOverlap": false, "labelFlush": false, "labelFontSize": 12, "labelFontWeight": "bold", "labelColor": "#000", "labelPadding": 3, "tickSize": 4, "tickColor": "#000", "domainColor": "#000",
                      "title": "Heat Flow (mV)", "titleFontSize": 15, "titleFontWeight": "bold", "titleColor": "#000", "titlePadding": 9}},
                  "color": {"datum": "DES (Pro/Zn(Ac)₂ 1:1)", "type": "nominal", "scale": {"range": ["#8a2be2"]},
                    "legend": {"orient": "none", "legendX": 0, "legendY": 190.5, "title": null, "symbolType": "stroke", "symbolSize": 1024, "symbolStrokeWidth": 2, "labelFontSize": 15, "labelFontWeight": "bold", "labelColor": "#000", "labelOffset": 5, "clipHeight": 15, "padding": 0}}
                }
              },
              {
                "data": {"values": [{"t": "e", "T": 135.7, "hf": 1.87}]},
                "mark": {"type": "text", "align": "center", "baseline": "middle", "fontSize": 22, "fontWeight": "bold", "color": "#000"},
                "encoding": {
                  "x": {"field": "T", "type": "quantitative", "axis": {"orient": "bottom", "values": [155,165,175,185,195,205,215,225,235,245], "labels": false, "domain": false, "tickSize": 3, "tickColor": "#000", "title": null}},
                  "y": {"field": "hf", "type": "quantitative", "axis": {"orient": "left", "values": [-1.4,-1.0,-0.6,-0.2,0.2,0.6,1.0,1.4,1.8], "labels": false, "domain": false, "tickSize": 3, "tickColor": "#000", "title": null}},
                  "text": {"field": "t"}}
              }
            ]
          }
        ]
      }
    ]
  }
]
}
